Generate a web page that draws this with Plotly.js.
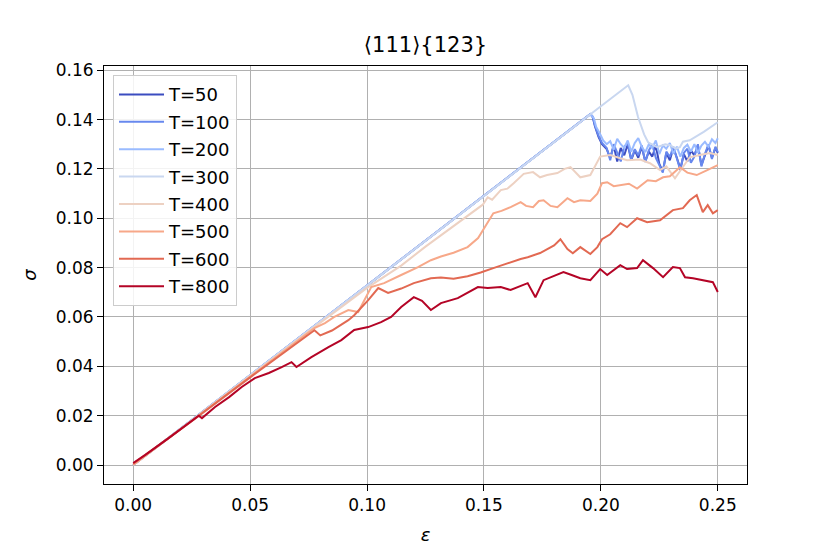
<!DOCTYPE html>
<html><head><meta charset="utf-8">
<script src="https://cdn.plot.ly/plotly-3.0.1.min.js"></script>
<style>html,body{margin:0;padding:0;background:#fff;}#chart{width:830px;height:554px;}</style>
</head><body><div id="chart"></div>
<script>
const labels = ["T=50","T=100","T=200","T=300","T=400","T=500","T=600","T=800"];
const colors = ["#3b4cc0","#6788ee","#9abbff","#c9d7f0","#edd1c2","#f7a889","#e26952","#b40426"];

const epsTail = [0.2025,0.204,0.2055,0.207,0.2085,0.21,0.2115,0.213,0.2145,0.216,0.2175,0.219,0.2205,0.222,0.2235,0.225,0.2265,0.228,0.2295,0.231,0.2325,0.234,0.2355,0.237,0.2385,0.24,0.2415,0.243,0.2445,0.246,0.2475,0.249,0.25];

const eps50 = [0,0.05,0.1,0.15,0.1955,0.1965,0.1975,0.199,0.2005].concat(epsTail);
const sig50 = [0,0.0363,0.0727,0.109,0.1422,0.141,0.1372,0.1330,0.1300,
 0.1280,0.1245,0.1295,0.1230,0.1285,0.1255,0.1300,0.1235,0.1275,0.1245,0.1290,0.1230,0.1270,0.1250,0.1295,0.1220,0.1190,0.1265,0.1235,0.1285,0.1245,0.1200,0.1260,0.1230,0.1275,0.1255,0.1295,0.1215,0.1255,0.1295,0.1245,0.1285,0.1265];

const eps100 = [0,0.05,0.1,0.15,0.1955,0.1965,0.1975,0.199,0.2005].concat(epsTail);
const sig100 = [0,0.0363,0.0727,0.109,0.1422,0.1412,0.1375,0.1335,0.1305,
 0.1285,0.1235,0.1300,0.1262,0.1230,0.1290,0.1305,0.1238,0.1280,0.1255,0.1295,0.1228,0.1275,0.1300,0.1245,0.1215,0.1185,0.1270,0.1248,0.1290,0.1240,0.1195,0.1265,0.1282,0.1225,0.1250,0.1300,0.1210,0.1260,0.1300,0.1240,0.1290,0.1268];

const eps200 = [0,0.05,0.1,0.15,0.1955,0.197,0.198,0.1995,0.201].concat(epsTail);
const sig200 = [0,0.0363,0.0727,0.109,0.1422,0.1405,0.1370,0.1345,0.1315,
 0.1300,0.1312,0.1278,0.1322,0.1300,0.1285,0.1315,0.1270,0.1305,0.1325,0.1290,0.1268,0.1300,0.1285,0.1315,0.1260,0.1295,0.1282,0.1305,0.1262,0.1290,0.1250,0.1285,0.1298,0.1270,0.1300,0.1265,0.1295,0.1310,0.1290,0.1320,0.1305,0.1324];

const eps300 = [0,0.05,0.1,0.15,0.2,0.2117,0.2135,0.2159,0.2185,0.2202,0.224,0.2275,0.2296,0.232,0.2338,0.2351,0.238,0.244,0.25];
const sig300 = [0,0.0364,0.0727,0.109,0.1454,0.1539,0.1500,0.1410,0.1340,0.1308,0.1288,0.1300,0.1296,0.1282,0.1288,0.1310,0.1316,0.1350,0.1389];

const eps400 = [0,0.025,0.05,0.075,0.1,0.1146,0.125,0.14,0.1495,0.1516,0.1535,0.1572,0.1600,0.1627,0.167,0.171,0.174,0.177,0.1814,0.1845,0.187,0.1912,0.1955,0.1997,0.204,0.2083,0.2112,0.2168,0.221,0.2253,0.228,0.2317,0.234,0.238,0.2423,0.2466,0.25];
const sig400 = [0,0.0180,0.0362,0.0541,0.0718,0.0808,0.0885,0.0990,0.1055,0.1085,0.1075,0.1114,0.1120,0.1142,0.1180,0.1187,0.1166,0.1175,0.1183,0.1200,0.1207,0.1166,0.1175,0.1250,0.1256,0.1243,0.1235,0.1238,0.1223,0.1195,0.1210,0.1162,0.1195,0.1247,0.1256,0.1264,0.1256];

const eps500 = [0,0.025,0.05,0.07,0.0775,0.082,0.086,0.092,0.0962,0.1018,0.1073,0.1146,0.1218,0.1273,0.1316,0.137,0.143,0.1475,0.1495,0.154,0.1575,0.1614,0.1657,0.168,0.171,0.1735,0.1755,0.1785,0.1814,0.1857,0.1885,0.1912,0.1955,0.1985,0.2005,0.2027,0.2055,0.208,0.212,0.2155,0.22,0.2235,0.2266,0.2295,0.2338,0.237,0.241,0.2455,0.25];
const sig500 = [0,0.0178,0.0358,0.0500,0.0555,0.0575,0.0600,0.0628,0.0620,0.0721,0.0737,0.0770,0.0802,0.0830,0.0845,0.0860,0.0883,0.0920,0.0952,0.1020,0.1030,0.1045,0.1065,0.1050,0.1045,0.1070,0.1073,0.1050,0.1045,0.1081,0.1065,0.1073,0.1070,0.1100,0.1142,0.1146,0.1130,0.1134,0.1140,0.1120,0.1154,0.1150,0.1166,0.1170,0.1207,0.1185,0.1175,0.1195,0.1215];

const eps600 = [0,0.025,0.05,0.07,0.0775,0.080,0.085,0.092,0.0945,0.1005,0.1048,0.109,0.1146,0.12,0.1273,0.1316,0.137,0.143,0.1486,0.154,0.16,0.1657,0.1687,0.174,0.18,0.1827,0.1857,0.188,0.1912,0.1955,0.1985,0.2005,0.204,0.2083,0.2112,0.2155,0.2198,0.2253,0.2308,0.2351,0.238,0.241,0.2436,0.2457,0.2479,0.25];
const sig600 = [0.0005,0.0178,0.0355,0.0495,0.0546,0.0525,0.0545,0.0587,0.0607,0.0668,0.0717,0.0697,0.0715,0.0737,0.0757,0.0760,0.0755,0.0765,0.0780,0.0798,0.0818,0.0835,0.0842,0.0859,0.0890,0.0915,0.0875,0.0858,0.0883,0.0855,0.0883,0.0915,0.0935,0.0980,0.0964,0.1000,0.0984,0.0992,0.1033,0.1041,0.1073,0.1094,0.1025,0.1053,0.1020,0.1033];

const eps800 = [0,0.005,0.015,0.028,0.0294,0.035,0.041,0.0464,0.052,0.058,0.0635,0.0677,0.0698,0.0762,0.0835,0.089,0.0945,0.1005,0.106,0.1103,0.1146,0.12,0.1235,0.1273,0.1316,0.1388,0.1474,0.1516,0.1572,0.1614,0.1687,0.172,0.1755,0.18,0.184,0.1875,0.1912,0.1955,0.1997,0.2027,0.2083,0.2112,0.2155,0.218,0.2198,0.2223,0.2266,0.2308,0.2338,0.236,0.2394,0.2436,0.2479,0.25];
const sig800 = [0.0008,0.0040,0.0108,0.0200,0.0190,0.0235,0.0275,0.0316,0.0352,0.0373,0.0397,0.0417,0.0397,0.0437,0.0478,0.0506,0.0547,0.0559,0.0579,0.0600,0.0640,0.0680,0.0665,0.0628,0.0656,0.0676,0.0721,0.0717,0.0721,0.0709,0.0737,0.0680,0.0749,0.0765,0.0782,0.0770,0.0757,0.0749,0.0794,0.0770,0.0810,0.0794,0.0798,0.0830,0.0818,0.0798,0.0761,0.0802,0.0798,0.0761,0.0757,0.0749,0.0741,0.0701];

const xs = [eps50,eps100,eps200,eps300,eps400,eps500,eps600,eps800];
const ys = [sig50,sig100,sig200,sig300,sig400,sig500,sig600,sig800];

const traces = labels.map((name,i)=>({
  x: xs[i], y: ys[i], name: name, type:'scatter', mode:'lines',
  legendgroup: 'g'+i,
  line: {color: colors[i], width: 2}
}));

const font = "DejaVu Sans, sans-serif";
const layout = {
  width: 830, height: 554,
  margin: {l:104, r:83, t:66, b:70},
  paper_bgcolor:'#fff', plot_bgcolor:'#fff',
  font: {family: font, size: 17, color:'#000'},
  title: {text: '⟨111⟩{123}', font:{family:font, size:21, color:'#000'}, x:0.5, xref:'paper', y: 1-45/554, yanchor:'middle'},
  xaxis: {range:[-0.0125,0.2625], tickvals:[0,0.05,0.1,0.15,0.2,0.25], ticktext:['0.00','0.05','0.10','0.15','0.20','0.25'],
    showgrid:true, gridcolor:'#b0b0b0', gridwidth:1, zeroline:false,
    showline:true, mirror:true, linecolor:'#000', linewidth:1,
    ticks:'outside', ticklen:6, tickwidth:1, tickcolor:'#000', tickfont:{family:font,size:17},
    title:{text:'<i>ε</i>', font:{family:font, size:18}, standoff:13}},
  yaxis: {range:[-0.0077,0.1617], tickvals:[0,0.02,0.04,0.06,0.08,0.1,0.12,0.14,0.16], ticktext:['0.00','0.02','0.04','0.06','0.08','0.10','0.12','0.14','0.16'],
    showgrid:true, gridcolor:'#b0b0b0', gridwidth:1, zeroline:false,
    showline:true, mirror:true, linecolor:'#000', linewidth:1,
    ticks:'outside', ticklen:6, tickwidth:1, tickcolor:'#000', tickfont:{family:font,size:17},
    title:{text:'<i>σ</i>', font:{family:font, size:18}, standoff:14}},
  legend: {x:0.014, y:0.978, xanchor:'left', yanchor:'top', bgcolor:'rgba(255,255,255,0.85)',
    bordercolor:'#cccccc', borderwidth:1, font:{family:font, size:18}, tracegroupgap:1, itemwidth:45},
  showlegend: true
};
Plotly.newPlot('chart', traces, layout, {displayModeBar:false, staticPlot:true});
</script></body></html>
